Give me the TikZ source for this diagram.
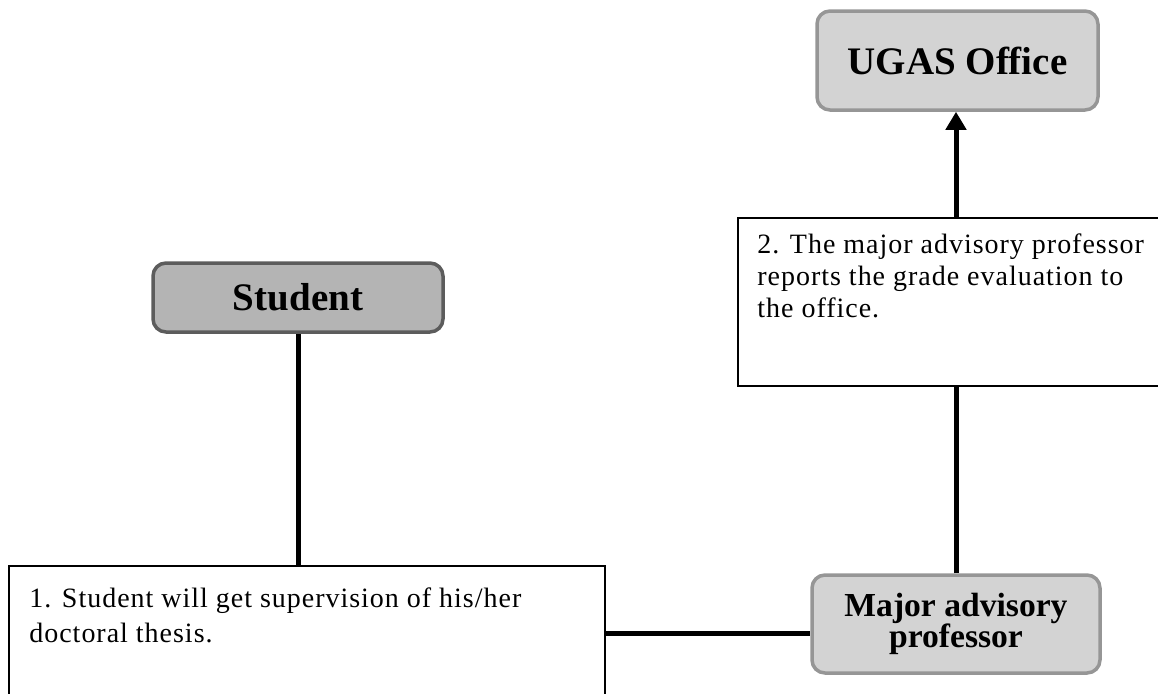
\documentclass[tikz,border=0pt]{standalone}
\usepackage{fontspec}
\setmainfont{Liberation Serif}
\usepackage{tikz}
\usetikzlibrary{arrows.meta}
\usetikzlibrary{calc}
\definecolor{studfill}{HTML}{B4B4B4}
\definecolor{studline}{HTML}{5C5C5C}
\definecolor{ugasfill}{HTML}{D3D3D3}
\definecolor{ugasline}{HTML}{969696}

\begin{document}
\begin{tikzpicture}[x=0.5pt,y=-0.5pt,
  roundbox/.style={rectangle,rounded corners=6.5pt,line width=1.75pt,align=center,
    font=\fontsize{19.5}{22}\selectfont\bfseries},
  notebox/.style={rectangle,draw,line width=1pt},
  notetext/.style={anchor=north west,inner sep=0pt,align=left},
  link/.style={line width=2.5pt}]
\useasboundingbox (0,0) rectangle (1158,693);
\clip (0,0) rectangle (1158,693);
\path
 (957.5,60.5) node(ugas) [roundbox,draw=ugasline,fill=ugasfill,minimum width=140.5pt,minimum height=49.5pt] {UGAS Office}
 (298,297.5) node(student) [roundbox,draw=studline,fill=studfill,minimum width=145pt,minimum height=34.5pt] {Student}
 (956,624) node(major) [roundbox,draw=ugasline,fill=ugasfill,minimum width=144pt,minimum height=49pt,
   font=\fontsize{16.8}{15.8}\selectfont\bfseries] {Major advisory\\professor}
 (307,633) node(note1) [notebox,minimum width=298pt,minimum height=67pt] {}
 (953,302) node(note2) [notebox,minimum width=215pt,minimum height=84pt] {};
\path
 ($(note1.north west)+(21,22)$) node(note1text) [notetext,
   font=\fontsize{14}{17.5}\selectfont\addfontfeatures{LetterSpace=3.5}]
   {1. Student will get supervision of his/her\\doctoral thesis.}
 ($(note2.north west)+(20,16)$) node(note2text) [notetext,
   font=\fontsize{14}{16}\selectfont\addfontfeatures{LetterSpace=3.5}]
   {2. The major advisory professor\\reports the grade evaluation to\\the office.};
\draw[link]
 (student.south) edge (student.south |- note1.north)
 (note1.east) edge (major.west |- note1.east)
 (major.north) edge (major.north |- note2.south)
 (note2.north -| major.north) edge[-{Triangle[width=10pt,length=9pt]}] (ugas.south -| major.north);
\end{tikzpicture}
\end{document}
